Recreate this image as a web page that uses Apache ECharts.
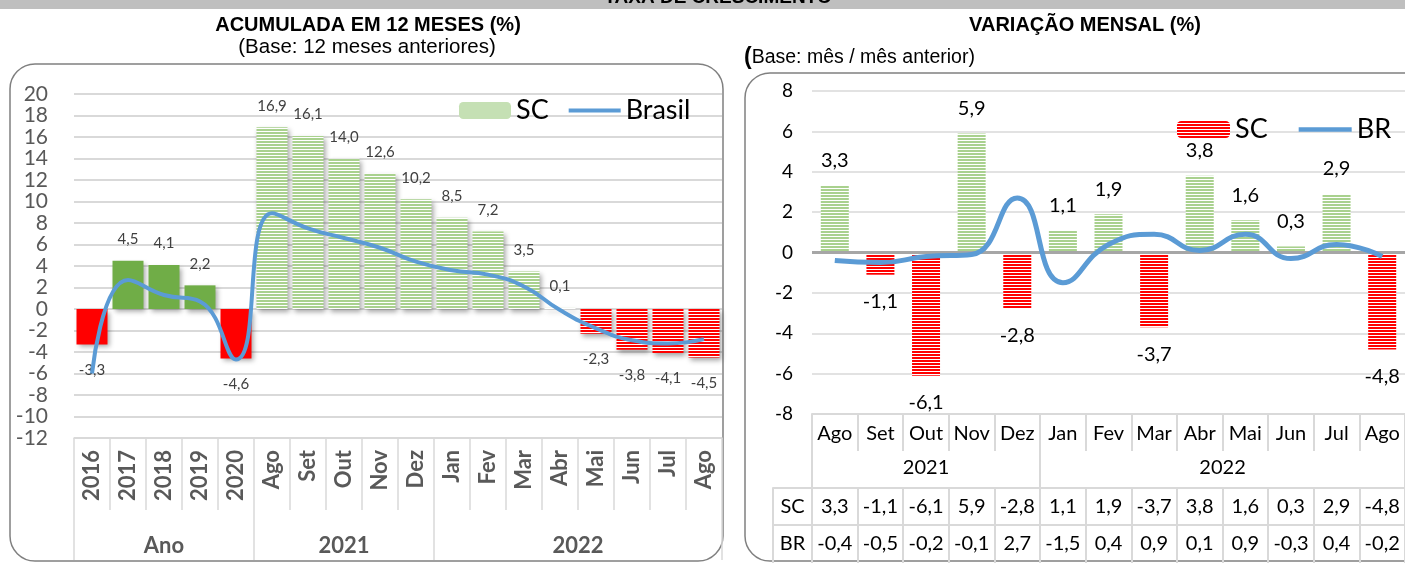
<!DOCTYPE html>
<html>
<head>
<meta charset="utf-8">
<script src="https://cdn.jsdelivr.net/npm/echarts@6/dist/echarts.min.js"></script>
<style>
  html, body { margin: 0; padding: 0; background: #fff; }
  #chart { width: 1405px; height: 563px; }
</style>
</head>
<body>
<div id="chart"></div>
<script>
// --- dados: acumulada em 12 meses ---
var leftCats = ['2016', '2017', '2018', '2019', '2020', 'Ago', 'Set', 'Out', 'Nov', 'Dez', 'Jan', 'Fev', 'Mar', 'Abr', 'Mai', 'Jun', 'Jul', 'Ago'];
var leftGroups = ['Ano', '2021', '2022'];
var leftGroupSizes = [5, 5, 8];
var leftSC = [-3.3, 4.5, 4.1, 2.2, -4.6, 16.9, 16.1, 14.0, 12.6, 10.2, 8.5, 7.2, 3.5, 0.1, -2.3, -3.8, -4.1, -4.5];
var leftBrasil = [-6.0, 2.7, 1.3, 0.7, -4.7, 8.9, 7.5, 6.6, 5.7, 4.4, 3.6, 3.2, 2.1, -0.1, -1.8, -2.9, -3.2, -2.8];

// --- dados: variacao mensal ---
var rightCats = ['Ago', 'Set', 'Out', 'Nov', 'Dez', 'Jan', 'Fev', 'Mar', 'Abr', 'Mai', 'Jun', 'Jul', 'Ago'];
var rightGroups = ['2021', '2022'];
var rightGroupSizes = [5, 8];
var rightSC = [3.3, -1.1, -6.1, 5.9, -2.8, 1.1, 1.9, -3.7, 3.8, 1.6, 0.3, 2.9, -4.8];
var rightBR = [-0.4, -0.5, -0.2, -0.1, 2.7, -1.5, 0.4, 0.9, 0.1, 0.9, -0.3, 0.4, -0.2];

function fmt(v) { return v.toFixed(1).replace('.', ','); }

function groupInfo(sizes) {
  var acc = 0, bounds = [0], centers = [];
  sizes.forEach(function (s) { centers.push(acc + s / 2); acc += s; bounds.push(acc); });
  return { bounds: bounds, centers: centers, total: acc };
}

// listras horizontais (padrao do excel)
function stripes(color, on, off) {
  var c = document.createElement('canvas');
  c.width = 4; c.height = on + off;
  var ctx = c.getContext('2d');
  ctx.fillStyle = '#ffffff'; ctx.fillRect(0, 0, 4, on + off);
  ctx.fillStyle = color; ctx.fillRect(0, 0, 4, on);
  return { image: c, repeat: 'repeat' };
}
var greenStripe = stripes('#a9d18e', 2, 1);
var redStripe = stripes('#ff0000', 2, 1);

var lg = groupInfo(leftGroupSizes);
var rg = groupInfo(rightGroupSizes);

var gridLine = '#d9d9d9';
var font = 'Lato';

var leftBars = leftSC.map(function (v, i) {
  var annual = i < leftGroupSizes[0];
  var color = annual ? (v < 0 ? '#ff0000' : '#70ad47') : (v < 0 ? redStripe : greenStripe);
  return { value: v, itemStyle: { color: color }, label: { position: v < 0 ? 'bottom' : 'top', distance: v < 0 ? 18 : 14 } };
});
var rightBars = rightSC.map(function (v) {
  return { value: v, itemStyle: { color: v < 0 ? redStripe : greenStripe }, label: { position: v < 0 ? 'bottom' : 'top', distance: v < 0 ? 17 : 15 } };
});

function tableAxis(data, offset, len, margin) {
  return {
    type: 'category', gridIndex: 1, position: 'bottom', offset: offset, data: data,
    axisLine: { show: true, onZero: false, lineStyle: { color: gridLine, width: 2 } },
    axisTick: { show: true, interval: 0, length: len, lineStyle: { color: gridLine, width: 2 } },
    axisLabel: { interval: 0, fontSize: 20, color: '#000', margin: margin, fontFamily: font },
    splitLine: { show: false }
  };
}
function headAxis(name, offset, len) {
  var a = tableAxis([name], offset, len, 9);
  a.gridIndex = 2;
  return a;
}

var option = {
  animation: false,
  textStyle: { fontFamily: font },
  graphic: [
    { type: 'rect', silent: true, shape: { x: 0, y: 0, width: 1405, height: 9 }, style: { fill: '#bfbfbf' } },
    { type: 'text', silent: true, x: 718, y: 7, style: { text: 'TAXA DE CRESCIMENTO', font: 'bold 19px "Liberation Sans"', fill: '#000', align: 'center', verticalAlign: 'bottom' } },
    { type: 'text', silent: true, x: 368, y: 25, style: { text: 'ACUMULADA EM 12 MESES (%)', font: 'bold 20px "Liberation Sans"', fill: '#000', align: 'center', verticalAlign: 'middle' } },
    { type: 'text', silent: true, x: 367, y: 47, style: { text: '(Base: 12 meses anteriores)', font: '20.5px "Liberation Sans"', fill: '#000', align: 'center', verticalAlign: 'middle' } },
    { type: 'text', silent: true, x: 1085, y: 25, style: { text: 'VARIAÇÃO MENSAL (%)', font: 'bold 20px "Liberation Sans"', fill: '#000', align: 'center', verticalAlign: 'middle' } },
    { type: 'text', silent: true, x: 744, y: 58, style: {
      text: '{a|(}{b|Base: mês / mês anterior)}', align: 'left', verticalAlign: 'middle',
      rich: { a: { font: 'bold 23px "Liberation Sans"', fill: '#000' }, b: { font: '19.5px "Liberation Sans"', fill: '#000' } } } },
    { type: 'rect', silent: true, shape: { x: 10, y: 64, width: 713, height: 497, r: 25 }, style: { fill: 'none', stroke: '#808080', lineWidth: 1.5 } },
    { type: 'rect', silent: true, shape: { x: 745, y: 73, width: 720, height: 488, r: 25 }, style: { fill: 'none', stroke: '#808080', lineWidth: 1.5 } }
  ],
  legend: [
    {
      data: [{ name: 'SC' }, { name: 'Brasil', icon: 'path://M0,0H55V4H0Z' }],
      left: 454, top: 92, itemWidth: 52, itemHeight: 17, itemGap: 20,
      textStyle: { fontSize: 27, color: '#000', fontFamily: font }
    },
    {
      data: [{ name: 'SC_m' }, { name: 'BR', icon: 'path://M0,0H56V5H0Z' }],
      left: 1172, top: 111, itemWidth: 53, itemHeight: 17, itemGap: 31,
      formatter: function (n) { return n === 'SC_m' ? 'SC' : n; },
      textStyle: { fontSize: 27, color: '#000', fontFamily: font }
    }
  ],
  grid: [
    { left: 74, top: 94, width: 648, height: 344 },
    { left: 812, top: 91, width: 601, height: 323 },
    { left: 773, top: 91, width: 39, height: 323 }
  ],
  xAxis: [
    {
      type: 'category', gridIndex: 0, data: leftCats,
      axisLine: { show: true, onZero: false, lineStyle: { color: gridLine, width: 1.5 } },
      axisTick: { show: true, interval: 0, length: 72, lineStyle: { color: gridLine, width: 1.5 } },
      axisLabel: { interval: 0, rotate: 90, fontSize: 22, fontWeight: 'bold', color: '#595959', margin: 12 }
    },
    {
      type: 'value', gridIndex: 0, position: 'bottom', min: 0, max: lg.total,
      axisLine: { show: false, onZero: false }, splitLine: { show: false },
      axisTick: { show: true, customValues: lg.bounds, length: 122, lineStyle: { color: gridLine, width: 1.5 } },
      axisLabel: {
        customValues: lg.centers, margin: 97, fontSize: 22, fontWeight: 'bold', color: '#595959',
        formatter: function (v) { return leftGroups[lg.centers.indexOf(v)] || ''; }
      }
    },
    tableAxis(rightCats, 0, 37, 10),
    {
      type: 'value', gridIndex: 1, position: 'bottom', offset: 37, min: 0, max: rg.total,
      axisLine: { show: false, onZero: false }, splitLine: { show: false },
      axisTick: { show: true, customValues: rg.bounds, length: 37, lineStyle: { color: gridLine, width: 2 } },
      axisLabel: {
        customValues: rg.centers, margin: 7, fontSize: 20, color: '#000',
        formatter: function (v) { return rightGroups[rg.centers.indexOf(v)] || ''; }
      }
    },
    tableAxis(rightSC.map(fmt), 74, 37, 9),
    tableAxis(rightBR.map(fmt), 111, 40, 9),
    headAxis('SC', 74, 37),
    headAxis('BR', 111, 40)
  ],
  yAxis: [
    {
      type: 'value', gridIndex: 0, min: -12, max: 20, interval: 2,
      axisLine: { show: false, onZero: false }, axisTick: { show: false },
      axisLabel: { fontSize: 21, color: '#595959', margin: 26 },
      splitLine: { lineStyle: { color: gridLine, width: 2 } }
    },
    {
      type: 'value', gridIndex: 1, min: -8, max: 8, interval: 2,
      axisLine: { show: false, onZero: false }, axisTick: { show: false },
      axisLabel: { fontSize: 19, color: '#000', margin: 19 },
      splitLine: { lineStyle: { color: gridLine, width: 1.5 } }
    },
    { type: 'value', gridIndex: 2, min: 0, max: 1, show: false }
  ],
  series: [
    {
      name: 'SC', type: 'bar', xAxisIndex: 0, yAxisIndex: 0, barWidth: 31,
      data: leftBars,
      itemStyle: { color: '#c5e0b4', shadowBlur: 5, shadowColor: 'rgba(0,0,0,0.35)', shadowOffsetX: 2, shadowOffsetY: 3 },
      label: { show: true, fontSize: 15, color: '#404040', formatter: function (p) { return fmt(p.value); } }
    },
    {
      name: 'Brasil', type: 'line', xAxisIndex: 0, yAxisIndex: 0, data: leftBrasil,
      smooth: 0.5, symbol: 'none', z: 5,
      lineStyle: { color: '#5b9bd5', width: 4 }, itemStyle: { color: '#5b9bd5' }
    },
    {
      name: 'SC_m', type: 'bar', xAxisIndex: 2, yAxisIndex: 1, barWidth: 28,
      data: rightBars,
      itemStyle: { color: redStripe },
      label: { show: true, fontSize: 20, color: '#000', formatter: function (p) { return fmt(p.value); } },
      markLine: {
        silent: true, symbol: 'none', label: { show: false },
        lineStyle: { color: '#a6a6a6', width: 3, type: 'solid' },
        data: [{ yAxis: 0 }]
      }
    },
    {
      name: 'BR', type: 'line', xAxisIndex: 2, yAxisIndex: 1, data: rightBR,
      smooth: 0.5, symbol: 'none', z: 5,
      lineStyle: { color: '#5b9bd5', width: 5 }, itemStyle: { color: '#5b9bd5' }
    }
  ]
};

var chart = echarts.init(document.getElementById('chart'));
chart.setOption(option);
</script>
</body>
</html>
